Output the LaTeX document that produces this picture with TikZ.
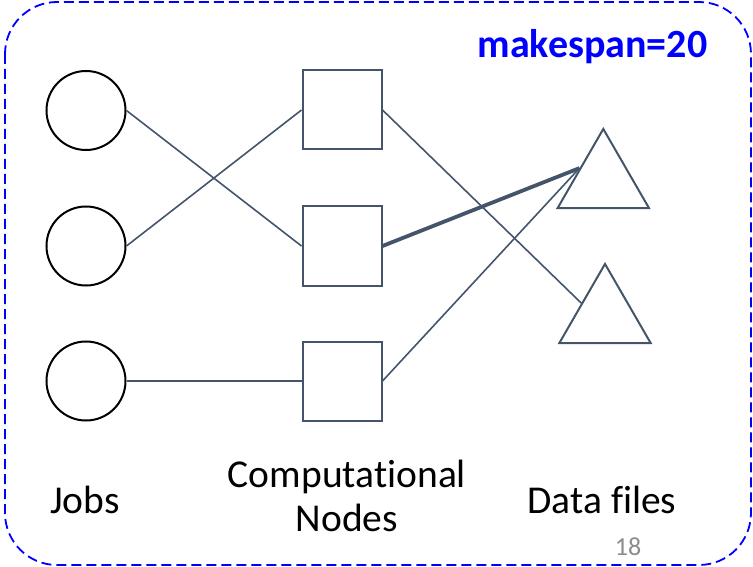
\documentclass[tikz,border=0pt]{standalone}
\usepackage{fontspec}
\setmainfont{Carlito}[Ligatures=NoCommon]
\usetikzlibrary{shapes.geometric}
\definecolor{slate}{HTML}{44546A}
\definecolor{pagenum}{HTML}{8C8C8C}
\tikzset{
  jobnode/.style={circle, draw=black, line width=2pt, minimum size=79pt, inner sep=0pt},
  compnode/.style={rectangle, draw=slate, line width=2pt, minimum size=79pt, inner sep=0pt},
  filenode/.style={regular polygon, regular polygon sides=3, draw=slate, line width=2pt,
                   minimum size=105.7pt, inner sep=0pt},
  link/.style={draw=slate, line width=1.6pt},
  heavylink/.style={draw=slate, line width=3.8pt},
  caption/.style={inner sep=0pt, anchor=base, font=\fontsize{39.5}{44}\selectfont, align=center},
}
\begin{document}
\begin{tikzpicture}[x=1pt, y=-1pt]
  \useasboundingbox (0,0) rectangle (753,567);
  % frame
  \draw[blue, line width=1.8pt, dash pattern=on 10pt off 5pt, rounded corners=52pt]
    (5,2) rectangle (751,565);

  % jobs
  \node[jobnode] (j1) at (86,110.5) {};
  \node[jobnode] (j2) at (86,246) {};
  \node[jobnode] (j3) at (86,381) {};

  % computational nodes
  \node[compnode] (c1) at (342,110) {};
  \node[compnode] (c2) at (342,246) {};
  \node[compnode] (c3) at (342,381) {};

  % data files
  \node[filenode] (d1) at (603.3,181.8) {};
  \node[filenode] (d2) at (605,316.8) {};

  % assignments
  \draw[link] (j1.east) -- (c2.west);
  \draw[link] (j2.east) -- (c1.west);
  \draw[link] (j3.east) -- (c3.west);
  \draw[link] (c1.east) -- (d2.side 1);
  \draw[heavylink] (c2.east) -- (d1.side 1);
  \draw[link] (c3.east) -- (d1.side 1);

  % labels (base of a two-line node is its last line)
  \node[caption] (tjobs) at (85,513) {Jobs};
  \node[caption] (tcomp) at (347,531) {Computational\\Nodes};
  \node[caption] (tdata) at (602,513) {Data files};
  \node[inner sep=0pt, anchor=base, text=blue, font=\fontsize{40}{44}\selectfont\bfseries]
    (tspan) at (592.5,57.3) {makespan=20};
  \node[inner sep=0pt, anchor=base, text=pagenum, font=\fontsize{26}{30}\selectfont]
    (tpage) at (628,555.5) {18};
\end{tikzpicture}
\end{document}
